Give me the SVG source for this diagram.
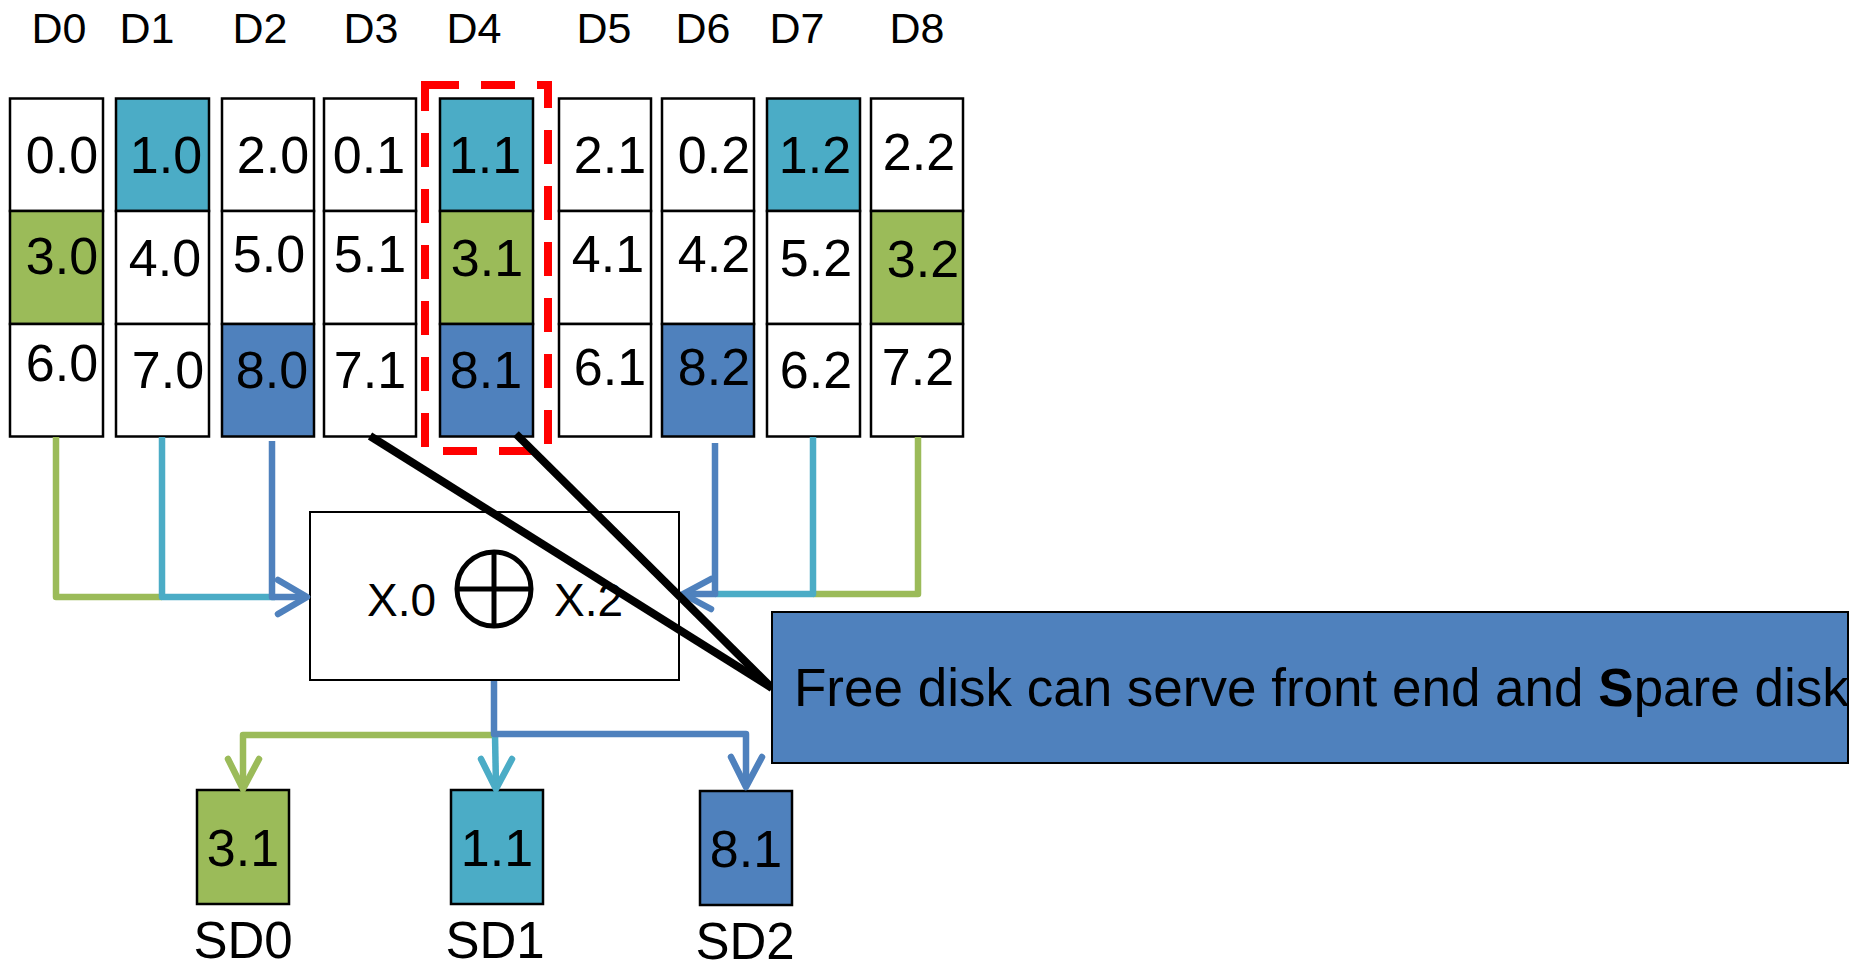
<svg xmlns="http://www.w3.org/2000/svg" width="1860" height="970" viewBox="0 0 1860 970">
<defs>
<style>
.cell{stroke:#000;stroke-width:2.5}
.w{fill:#fff}.t{fill:#4BACC6}.g{fill:#9BBB59}.b{fill:#4F81BD}
text{font-family:"Liberation Sans",Arial,sans-serif;fill:#000}
.v{font-size:52px;text-anchor:middle}
.lab{font-size:43px;text-anchor:middle}
.sd{font-size:51px;text-anchor:middle}
.conn{fill:none;stroke-width:6.5;stroke-linejoin:round}
.head{fill:none;stroke-width:6.5;stroke-linecap:round;stroke-linejoin:round}
</style>
</defs>
<rect width="1860" height="970" fill="#fff"/>
<g id="labels">
<text class="lab" x="59" y="43">D0</text>
<text class="lab" x="147" y="43">D1</text>
<text class="lab" x="260" y="43">D2</text>
<text class="lab" x="371" y="43">D3</text>
<text class="lab" x="474" y="43">D4</text>
<text class="lab" x="604" y="43">D5</text>
<text class="lab" x="703" y="43">D6</text>
<text class="lab" x="797" y="43">D7</text>
<text class="lab" x="917" y="43">D8</text>
</g>
<g id="D0">
<rect class="cell w" x="10" y="98.5" width="93" height="112.5"/>
<rect class="cell g" x="10" y="211" width="93" height="113"/>
<rect class="cell w" x="10" y="324" width="93" height="112.5"/>
<text class="v" x="62" y="173">0.0</text><text class="v" x="62" y="274">3.0</text><text class="v" x="62" y="381">6.0</text>
</g>
<g id="D1">
<rect class="cell t" x="116" y="98.5" width="93" height="112.5"/>
<rect class="cell w" x="116" y="211" width="93" height="113"/>
<rect class="cell w" x="116" y="324" width="93" height="112.5"/>
<text class="v" x="166" y="173">1.0</text><text class="v" x="165" y="276">4.0</text><text class="v" x="168" y="388">7.0</text>
</g>
<g id="D2">
<rect class="cell w" x="222" y="98.5" width="92" height="112.5"/>
<rect class="cell w" x="222" y="211" width="92" height="113"/>
<rect class="cell b" x="222" y="324" width="92" height="112.5"/>
<text class="v" x="273" y="173">2.0</text><text class="v" x="269" y="272">5.0</text><text class="v" x="272" y="388">8.0</text>
</g>
<g id="D3">
<rect class="cell w" x="324" y="98.5" width="92" height="112.5"/>
<rect class="cell w" x="324" y="211" width="92" height="113"/>
<rect class="cell w" x="324" y="324" width="92" height="112.5"/>
<text class="v" x="369" y="173">0.1</text><text class="v" x="370" y="272">5.1</text><text class="v" x="370" y="388">7.1</text>
</g>
<g id="D4">
<rect class="cell t" x="440" y="98.5" width="93" height="112.5"/>
<rect class="cell g" x="440" y="211" width="93" height="113"/>
<rect class="cell b" x="440" y="324" width="93" height="112.5"/>
<text class="v" x="485" y="173">1.1</text><text class="v" x="487" y="276">3.1</text><text class="v" x="486" y="388">8.1</text>
</g>
<g id="D5">
<rect class="cell w" x="559" y="98.5" width="92" height="112.5"/>
<rect class="cell w" x="559" y="211" width="92" height="113"/>
<rect class="cell w" x="559" y="324" width="92" height="112.5"/>
<text class="v" x="610" y="173">2.1</text><text class="v" x="608" y="272">4.1</text><text class="v" x="610" y="385">6.1</text>
</g>
<g id="D6">
<rect class="cell w" x="662" y="98.5" width="92" height="112.5"/>
<rect class="cell w" x="662" y="211" width="92" height="113"/>
<rect class="cell b" x="662" y="324" width="92" height="112.5"/>
<text class="v" x="714" y="173">0.2</text><text class="v" x="714" y="272">4.2</text><text class="v" x="714" y="385">8.2</text>
</g>
<g id="D7">
<rect class="cell t" x="767" y="98.5" width="93" height="112.5"/>
<rect class="cell w" x="767" y="211" width="93" height="113"/>
<rect class="cell w" x="767" y="324" width="93" height="112.5"/>
<text class="v" x="815" y="173">1.2</text><text class="v" x="816" y="276">5.2</text><text class="v" x="816" y="388">6.2</text>
</g>
<g id="D8">
<rect class="cell w" x="871" y="98.5" width="92" height="112.5"/>
<rect class="cell g" x="871" y="211" width="92" height="113"/>
<rect class="cell w" x="871" y="324" width="92" height="112.5"/>
<text class="v" x="919" y="170">2.2</text><text class="v" x="923" y="277">3.2</text><text class="v" x="918" y="385">7.2</text>
</g>
<g id="xor">
<rect x="310" y="512" width="369" height="168" fill="#fff" stroke="#000" stroke-width="2"/>
<text x="367" y="616" style="font-size:46px">X.0</text>
<text x="554" y="616" style="font-size:46px">X.2</text>
<circle cx="494" cy="589" r="37" fill="none" stroke="#000" stroke-width="5"/>
<line x1="494" y1="552" x2="494" y2="626" stroke="#000" stroke-width="5"/>
<line x1="457" y1="589" x2="531" y2="589" stroke="#000" stroke-width="5"/>
</g>
<g id="SD0">
<rect x="197" y="790" width="92" height="114" fill="#9BBB59" stroke="#000" stroke-width="2.5"/>
<text class="v" x="243" y="866">3.1</text>
<text class="sd" x="243" y="958">SD0</text>
</g>
<g id="SD1">
<rect x="451" y="790" width="92" height="114" fill="#4BACC6" stroke="#000" stroke-width="2.5"/>
<text class="v" x="497" y="866">1.1</text>
<text class="sd" x="495" y="958">SD1</text>
</g>
<g id="SD2">
<rect x="700" y="791" width="92" height="114" fill="#4F81BD" stroke="#000" stroke-width="2.5"/>
<text class="v" x="746" y="867">8.1</text>
<text class="sd" x="745" y="959">SD2</text>
</g>
<g id="connectors">
<polyline class="conn" stroke="#9BBB59" points="56,437 56,597 162,597"/>
<polyline class="conn" stroke="#4BACC6" points="162,437 162,597 275,597"/>
<polyline class="conn" stroke="#4F81BD" points="272,441 272,597 306,597"/>
<polyline class="head" stroke="#4F81BD" points="278,580 307,597 278,614"/>
<polyline class="conn" stroke="#9BBB59" points="918,437 918,594 813,594"/>
<polyline class="conn" stroke="#4BACC6" points="813,437 813,594 715,594"/>
<polyline class="conn" stroke="#4F81BD" points="715,443 715,594 684,594"/>
<polyline class="head" stroke="#4F81BD" points="711,579 683,594 711,609"/>
<polyline class="conn" stroke="#9BBB59" points="494,735 243,735 243,787"/>
<polyline class="head" stroke="#9BBB59" points="228,759 243,789 259,759"/>
<polyline class="conn" stroke="#4BACC6" points="495,735 496,787"/>
<polyline class="head" stroke="#4BACC6" points="481,759 496,789 512,759"/>
<polyline class="conn" stroke="#4F81BD" points="494,681 494,734 746,734 746,785"/>
<polyline class="head" stroke="#4F81BD" points="731,757 746,787 762,757"/>
</g>
<g id="highlight">
<rect x="425" y="85" width="123" height="366" fill="none" stroke="#FF0000" stroke-width="8" stroke-dasharray="34 22"/>
</g>
<g id="callout">
<line x1="370" y1="436" x2="772" y2="688" stroke="#000" stroke-width="8"/>
<line x1="516" y1="434" x2="772" y2="688" stroke="#000" stroke-width="8"/>
<rect x="772" y="612" width="1076" height="151" fill="#4F81BD" stroke="#000" stroke-width="2"/>
<text x="794" y="706" style="font-size:53px">Free disk can serve front end and <tspan font-weight="bold">S</tspan>pare disk</text>
</g>
</svg>
